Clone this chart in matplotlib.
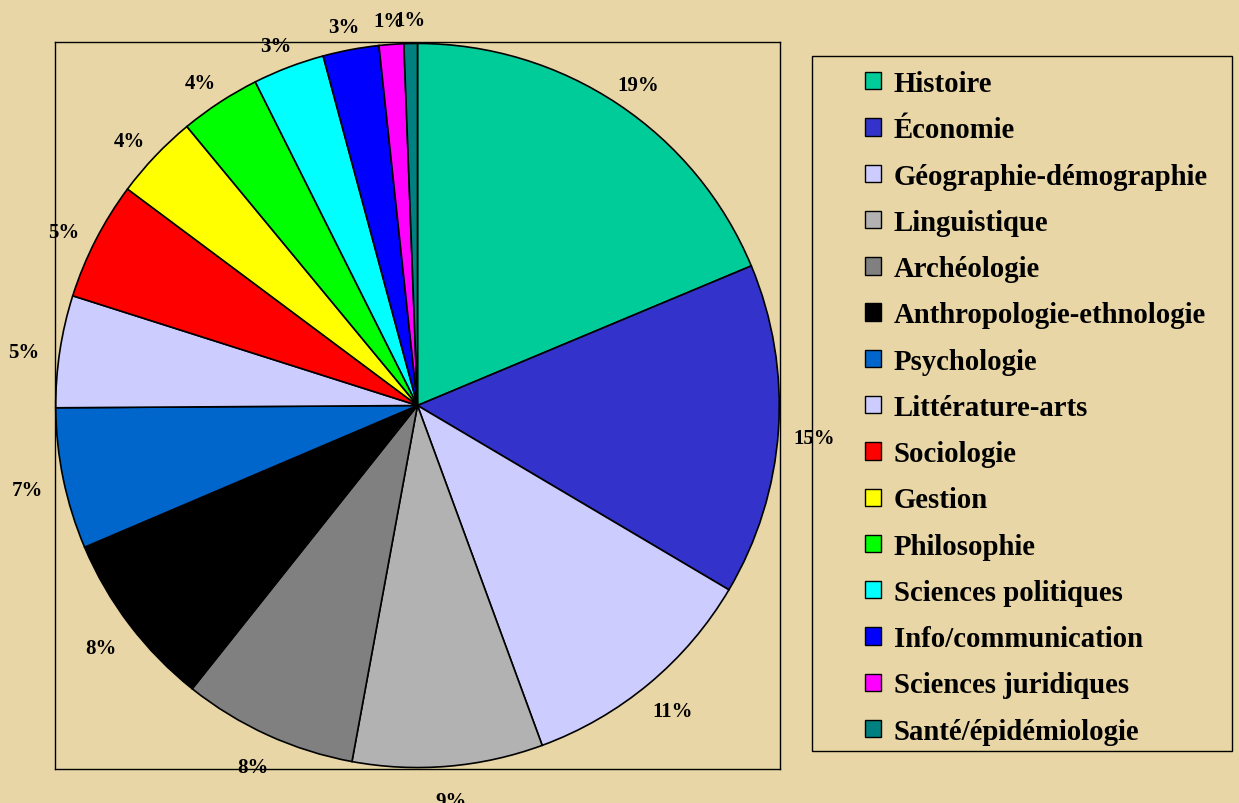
import numpy as np
import matplotlib.pyplot as plt
from matplotlib.patches import Patch, Rectangle

categories = ['Histoire', 'Économie', 'Géographie-démographie', 'Linguistique',
              'Archéologie', 'Anthropologie-ethnologie', 'Psychologie',
              'Littérature-arts', 'Sociologie', 'Gestion', 'Philosophie',
              'Sciences politiques', 'Info/communication', 'Sciences juridiques',
              'Santé/épidémiologie']
shares = [18.7, 14.8, 10.9, 8.5, 7.8, 7.9, 6.3, 5.0, 5.3, 3.8, 3.6, 3.2, 2.5, 1.1, 0.6]
pct_labels = ['19%', '15%', '11%', '9%', '8%', '8%', '7%', '5%', '5%', '4%', '4%',
              '3%', '3%', '1%', '1%']
colors = ['#00CC99', '#3333CC', '#CCCCFF', '#B2B2B2', '#808080', '#000000', '#0066CC',
          '#CCCCFF', '#FF0000', '#FFFF00', '#00FF00', '#00FFFF', '#0000FF', '#FF00FF',
          '#008080']

plt.rcParams['font.family'] = ['Liberation Serif', 'DejaVu Serif']
bg = '#E8D6A6'

fig = plt.figure(figsize=(12.39, 8.04), dpi=100, facecolor=bg)
ax = fig.add_axes([55 / 1239, 34 / 804, 725 / 1239, 727 / 804])
ax.set_facecolor('none')

wedges, _ = ax.pie(shares, colors=colors, startangle=90, counterclock=False,
                   wedgeprops=dict(edgecolor='black', linewidth=1.2), radius=1.0,
                   frame=True)
for w, lab in zip(wedges, pct_labels):
    ang = np.deg2rad((w.theta1 + w.theta2) / 2)
    ax.text(1.1 * np.cos(ang), 1.08 * np.sin(ang) - 0.015, lab, ha='center', va='center',
            fontsize=15, fontweight='bold', clip_on=False)

ax.set_xlim(-1.002, 1.002)
ax.set_ylim(-1.004, 1.004)
ax.set_aspect('auto')
ax.set_xticks([])
ax.set_yticks([])
for s in ax.spines.values():
    s.set_linewidth(1)
    s.set_color('black')
    s.set_visible(True)

# legend box
fig.add_artist(Rectangle((812 / 1239, 1 - 752 / 804), 420 / 1239, 695 / 804,
                         transform=fig.transFigure, fill=False, edgecolor='black',
                         linewidth=1))
handles = [Patch(facecolor=c, edgecolor='black', linewidth=1) for c in colors]
fig.legend(handles, categories, loc='upper left',
           bbox_to_anchor=(865 / 1239, 1 - 71 / 804), frameon=False,
           prop=dict(size=20.7, weight='bold'), handlelength=0.55, handleheight=0.55,
           handletextpad=0.45, labelspacing=0.67, borderpad=0, borderaxespad=0)

fig.savefig('out.png', dpi=100, facecolor=bg)
